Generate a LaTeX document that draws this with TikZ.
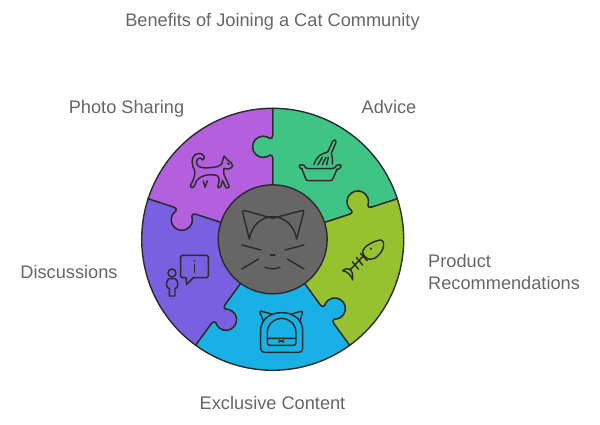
\documentclass[tikz,border=0pt]{standalone}
\usepackage{fontspec}
\setmainfont{Liberation Sans}
\definecolor{ink}{HTML}{2B2B2B}
\definecolor{lbl}{HTML}{666666}
\definecolor{cpurple}{HTML}{B45FDE}
\definecolor{cgreen}{HTML}{3EC586}
\definecolor{colive}{HTML}{97C230}
\definecolor{cblue}{HTML}{19B0E6}
\definecolor{cviolet}{HTML}{7860E0}
\definecolor{ccenter}{HTML}{666666}
\tikzset{
  piece/.style={draw=ink,line width=1.4pt,line join=round},
  icon/.style={draw=ink,line width=1.45pt,line join=round,line cap=round},
  lab/.style={text=lbl,font=\fontsize{18.2}{22}\selectfont,inner sep=0pt,anchor=base},
}
\newcommand{\fwd}[1]{%
 -- ([rotate=#1]81,0) .. controls ([rotate=#1]83.5,0) and ([rotate=#1]84.7,1.5) .. ([rotate=#1]84,3)
 .. controls ([rotate=#1]82.7,4.6) and ([rotate=#1]81.8,6.9) .. ([rotate=#1]81.8,9.5)
 .. controls ([rotate=#1]81.8,15.4) and ([rotate=#1]86.6,20.2) .. ([rotate=#1]92.5,20.2)
 .. controls ([rotate=#1]98.4,20.2) and ([rotate=#1]103.2,15.4) .. ([rotate=#1]103.2,9.5)
 .. controls ([rotate=#1]103.2,6.9) and ([rotate=#1]102.3,4.6) .. ([rotate=#1]101,3)
 .. controls ([rotate=#1]100.3,1.5) and ([rotate=#1]101.5,0) .. ([rotate=#1]104,0)
 -- ([rotate=#1]131,0)}
\newcommand{\rev}[1]{%
 -- ([rotate=#1]104,0) .. controls ([rotate=#1]101.5,0) and ([rotate=#1]100.3,1.5) .. ([rotate=#1]101,3)
 .. controls ([rotate=#1]102.3,4.6) and ([rotate=#1]103.2,6.9) .. ([rotate=#1]103.2,9.5)
 .. controls ([rotate=#1]103.2,15.4) and ([rotate=#1]98.4,20.2) .. ([rotate=#1]92.5,20.2)
 .. controls ([rotate=#1]86.6,20.2) and ([rotate=#1]81.8,15.4) .. ([rotate=#1]81.8,9.5)
 .. controls ([rotate=#1]81.8,6.9) and ([rotate=#1]82.7,4.6) .. ([rotate=#1]84,3)
 .. controls ([rotate=#1]84.7,1.5) and ([rotate=#1]83.5,0) .. ([rotate=#1]81,0)
 -- ([rotate=#1]50,0)}
\newcommand{\sector}[3]{%
 \path[piece,fill=#3] ([rotate=#1]50,0) \fwd{#1} arc[start angle=#1,end angle=#2,radius=131pt] \rev{#2} -- cycle;}
\begin{document}
\begin{tikzpicture}[x=1pt,y=1pt]
\useasboundingbox (0,-425) rectangle (600,0);
\begin{scope}[shift={(272.7,-239.3)}]
 \sector{18}{90}{cgreen}
 \sector{90}{162}{cpurple}
 \sector{162}{234}{cviolet}
 \sector{234}{306}{cblue}
 \sector{306}{378}{colive}
 \node[circle,draw=ink,line width=1.4pt,fill=ccenter,minimum size=109pt,inner sep=0pt] (hub) at (0,0) {};
\end{scope}
% hub cat (coordinates of the 3x crop at 130,95)
\begin{scope}[shift={(130,-95)},x=0.3333pt,y=-0.3333pt]
 \draw[icon] (358,432) -- (338,352) .. controls (337,347) and (340,346) .. (345,347) -- (428,370) -- (515,347) .. controls (520,346) and (522,348) .. (521,352) -- (500,432);
 \draw[icon] (358,432) .. controls (364,392) and (395,365) .. (428,365) .. controls (462,365) and (494,392) .. (500,432);
 \draw[icon] (335,450) -- (393,465);
 \draw[icon] (465,465) -- (522,450);
 \draw[icon] (335,522) -- (386,492);
 \draw[icon] (472,492) -- (522,522);
 \draw[icon] (421,480) -- (435,480);
 \draw[icon] (405,517) .. controls (420,523) and (436,523) .. (450,517);
\end{scope}
% cat
\begin{scope}[shift={(160,-130)},x=0.3333pt,y=-0.3333pt]
 \draw[icon] (192,78) -- (205,92) .. controls (212,95) and (218,102) .. (218,108) .. controls (212,118) and (202,118) .. (192,115)
  .. controls (188,125) and (192,135) .. (197,145) -- (208,170) .. controls (207,175) and (199,175) .. (197,172) -- (188,152) -- (182,170) .. controls (180,175) and (173,174) .. (173,170)
  .. controls (178,155) and (180,145) .. (172,137) .. controls (158,132) and (125,132) .. (110,152) -- (102,170) .. controls (100,175) and (91,174) .. (91,168)
  .. controls (100,150) and (107,135) .. (104,122) .. controls (95,105) and (92,85) .. (105,74) .. controls (118,66) and (134,72) .. (133,84) .. controls (132,92) and (124,92) .. (123,85)
  .. controls (115,82) and (108,90) .. (110,100) .. controls (113,112) and (125,115) .. (150,113) .. controls (165,112) and (180,110) .. (186,100) -- cycle;
 \draw[icon] (130,153) -- (135,172) -- (142,153);
 \draw[icon] (202,100) -- (208,103);
\end{scope}
% litter tray
\begin{scope}[shift={(290,-120)},x=0.3333pt,y=-0.3333pt]
 \draw[icon] (35,145) -- (47,176) .. controls (48,180) and (50,182) .. (55,182) -- (120,182) .. controls (125,182) and (128,180) .. (129,176) -- (141,148);
 \draw[icon] (28,140) .. controls (26,133) and (38,132) .. (42,136) .. controls (45,142) and (47,146) .. (55,146) -- (125,146) .. controls (133,146) and (136,142) .. (140,136) .. controls (144,132) and (156,133) .. (153,140) .. controls (150,146) and (145,149) .. (139,149);
 \draw[icon] (28,140) .. controls (30,145) and (33,147) .. (37,147);
 \draw[icon] (72,134) .. controls (76,118) and (85,103) .. (113,96) -- (129,62) .. controls (132,57) and (141,60) .. (138,67) -- (124,100) .. controls (127,112) and (128,122) .. (127,133);
 \draw[icon] (84,134) -- (97,112);
 \draw[icon] (97,134) -- (108,112);
 \draw[icon] (110,134) -- (115,112);
\end{scope}
% fish bones
\begin{scope}[shift={(310,-220)},x=0.3333pt,y=-0.3333pt]
 \draw[icon] (213,60) .. controls (222,62) and (222,75) .. (219,85) .. controls (212,102) and (198,118) .. (180,118) .. controls (168,116) and (158,105) .. (158,95) .. controls (160,80) and (190,62) .. (213,60) -- cycle;
 \fill[ink] (183,86) circle[radius=3.5];
 \draw[icon] (160,108) -- (122,148);
 \draw[icon] (151,100) -- (172,122);
 \draw[icon] (139,112) -- (158,135);
 \draw[icon] (127,125) -- (145,147);
 \draw[icon] (98,152) .. controls (108,141) and (132,142) .. (128,180) .. controls (124,165) and (112,155) .. (98,152) -- cycle;
\end{scope}
% backpack
\begin{scope}[shift={(220,-290)},x=0.3333pt,y=-0.3333pt]
 \draw[icon] (122,118) .. controls (124,88) and (150,68) .. (185,68) .. controls (220,68) and (246,88) .. (248,118) -- (248,175) .. controls (248,183) and (243,187) .. (236,187) -- (134,187) .. controls (127,187) and (122,183) .. (122,175) -- cycle;
 \draw[icon] (130,93) -- (120,68) .. controls (119,64) and (122,63) .. (125,64) -- (158,73);
 \draw[icon] (240,93) -- (247,68) .. controls (248,64) and (245,63) .. (242,64) -- (212,73);
 \draw[icon] (142,145) -- (142,125) .. controls (144,100) and (165,85) .. (185,85) .. controls (205,85) and (226,100) .. (228,125) -- (228,145);
 \draw[icon] (142,145) -- (228,145) -- (228,158) .. controls (228,163) and (225,166) .. (220,166) -- (150,166) .. controls (145,166) and (142,163) .. (142,158) -- cycle;
 \draw[icon,line width=1pt] (176,150) -- (192,157);
 \draw[icon,line width=1pt] (192,150) -- (176,157);
\end{scope}
% person and speech bubble
\begin{scope}[shift={(140,-190)},x=0.3333pt,y=-0.3333pt]
 \draw[icon] (128,196) -- (200,196) .. controls (204,196) and (205,198) .. (205,201) -- (205,258) .. controls (205,261) and (204,263) .. (200,263) -- (160,263) -- (140,283) -- (138,263) -- (128,263) .. controls (124,263) and (122,261) .. (122,258) -- (122,201) .. controls (122,198) and (124,196) .. (128,196) -- cycle;
 \fill[ink] (163,213) circle[radius=2.8];
 \draw[icon] (163,223) -- (163,248);
 \draw[icon] (96,249) circle[radius=12];
 \draw[icon] (88,266) -- (104,266) .. controls (110,268) and (113,274) .. (113,280) -- (113,288) .. controls (113,293) and (108,295) .. (105,295) -- (105,318) -- (88,318) -- (88,295) .. controls (84,295) and (80,293) .. (80,288) -- (80,280) .. controls (80,274) and (83,268) .. (88,266) -- cycle;
\end{scope}
\node[lab] (title) at (272.5,-27) {Benefits of Joining a Cat Community};
\node[lab] (advice) at (389,-114) {Advice};
\node[lab] (photo) at (126.5,-114) {Photo Sharing};
\node[lab,anchor=base west] (product) at (428,-267) {Product};
\node[lab,anchor=base west] (recomm) at (428,-289) {Recommendations};
\node[lab] (disc) at (69,-278) {Discussions};
\node[lab] (excl) at (272.5,-409) {Exclusive Content};
\end{tikzpicture}
\end{document}
